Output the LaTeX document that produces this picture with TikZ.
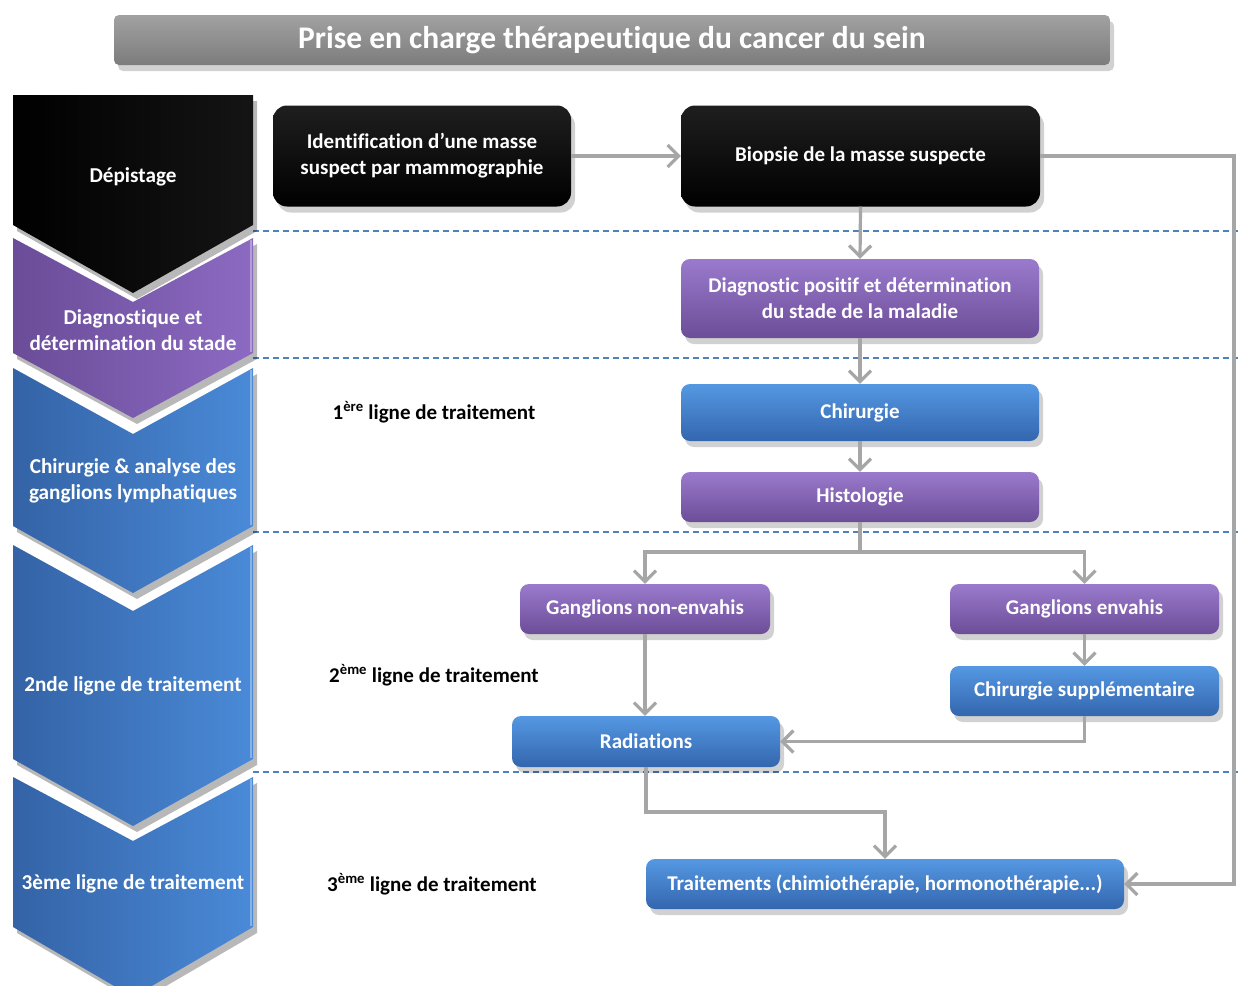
\documentclass[tikz,border=0pt]{standalone}
\usepackage{fontspec}
\setmainfont{Carlito}[Ligatures=NoCommon]
\usetikzlibrary{arrows.meta,shadows}
\definecolor{arrgray}{HTML}{A6A6A6}
\definecolor{dashblue}{HTML}{4F81BD}
\definecolor{purtop}{HTML}{9A7ACC}
\definecolor{purbot}{HTML}{6C4D98}
\definecolor{blutop}{HTML}{5598E2}
\definecolor{blubot}{HTML}{3366AE}
\definecolor{chpurL}{HTML}{6A4C98}
\definecolor{chpurR}{HTML}{8C6AC2}
\definecolor{chbluL}{HTML}{3463A6}
\definecolor{chbluR}{HTML}{4A8AD8}
\definecolor{titgray}{HTML}{8A8A8A}
\begin{document}
\begin{tikzpicture}[x=1pt,y=-1pt,
  shad/.style={drop shadow={shadow xshift=4pt,shadow yshift=-6pt,opacity=0.18,fill=black}},
  box/.style={shad,rounded corners=9pt,align=center,text=white,inner sep=0pt,
    font=\fontsize{21}{26}\selectfont\bfseries},
  blackbox/.style={box,top color=black!88,bottom color=black,rounded corners=14pt},
  purbox/.style={box,top color=purtop,bottom color=purbot},
  blubox/.style={box,top color=blutop,bottom color=blubot},
  chevtext/.style={text=white,align=center,font=\fontsize{21.2}{26}\selectfont\bfseries},
  lbl/.style={text=black,font=\fontsize{21}{25}\selectfont\bfseries},
  conn/.style={draw=arrgray,line width=3.2pt},
  arr/.style={conn,-{Straight Barb[length=11pt,width=22pt]}},
  sep/.style={draw=dashblue,line width=1.2pt,dash pattern=on 6pt off 4pt},
  chshadow/.style={fill=black,opacity=0.28}
]
\useasboundingbox (0,0) rectangle (1238,985);
\fill[white] (0,0) rectangle (1238,985);

% dashed separators
\coordinate (d1a) at (253,231); \coordinate (d1b) at (1238,231);
\coordinate (d2a) at (253,358); \coordinate (d2b) at (1238,358);
\coordinate (d3a) at (253,532); \coordinate (d3b) at (1238,532);
\coordinate (d4a) at (253,772); \coordinate (d4b) at (1238,772);
\draw[sep] (d1a) -- (d1b);
\draw[sep] (d2a) -- (d2b);
\draw[sep] (d3a) -- (d3b);
\draw[sep] (d4a) -- (d4b);

% title
\node[shad,rounded corners=5pt,top color=titgray!80,bottom color=titgray!90!black,
  minimum width=996pt,minimum height=50pt,inner sep=0pt,text=white,
  font=\fontsize{31.5}{36}\selectfont\bfseries] (title) at (612,40)
  {Prise en charge thérapeutique du cancer du sein};

% chevrons: shadows
\fill[chshadow] (17,101) -- (257,101) -- (257,231) -- (137,299) -- (17,231) -- cycle;
\fill[chshadow] (17,244) -- (137,308) -- (257,244) -- (257,359) -- (137,424) -- (17,359) -- cycle;
\fill[chshadow] (17,374) -- (137,440) -- (257,374) -- (257,532) -- (137,599) -- (17,532) -- cycle;
\fill[chshadow] (17,551) -- (137,617) -- (257,551) -- (257,765) -- (137,832) -- (17,765) -- cycle;
\fill[chshadow] (17,783) -- (137,847) -- (257,783) -- (257,933) -- (137,1003) -- (17,933) -- cycle;
% chevrons
\shade[left color=black,right color=black!92] (13,95) -- (253,95) -- (253,225) -- (133,293) -- (13,225) -- cycle;
\shade[left color=chpurL,right color=chpurR] (13,238) -- (133,302) -- (253,238) -- (253,353) -- (133,418) -- (13,353) -- cycle;
\shade[left color=chbluL,right color=chbluR] (13,368) -- (133,434) -- (253,368) -- (253,526) -- (133,593) -- (13,526) -- cycle;
\shade[left color=chbluL,right color=chbluR] (13,545) -- (133,611) -- (253,545) -- (253,759) -- (133,826) -- (13,759) -- cycle;
\shade[left color=chbluL,right color=chbluR] (13,777) -- (133,841) -- (253,777) -- (253,927) -- (133,997) -- (13,927) -- cycle;
% bevel highlights on right edges
\draw[white,opacity=0.35,line width=1.5pt] (251,240) -- (251,352);
\draw[white,opacity=0.35,line width=1.5pt] (251,370) -- (251,525);
\draw[white,opacity=0.35,line width=1.5pt] (251,547) -- (251,758);
\draw[white,opacity=0.35,line width=1.5pt] (251,779) -- (251,926);

\node[chevtext] (c1) at (133,177) {Dépistage};
\node[chevtext] (c2) at (133,330) {Diagnostique et\\détermination du stade};
\node[chevtext] (c3) at (133,481) {Chirurgie \& analyse des\\ganglions lymphatiques};
\node[chevtext] (c4) at (133,686) {2nde ligne de traitement};
\node[chevtext] (c5) at (133,884) {3ème ligne de traitement};

% side labels
\node[lbl] (l1) at (434,412) {1\textsuperscript{ère} ligne de traitement};
\node[lbl] (l2) at (434,675) {2\textsuperscript{ème} ligne de traitement};
\node[lbl] (l3) at (432,884) {3\textsuperscript{ème} ligne de traitement};

% boxes
\node[blackbox,minimum width=298pt,minimum height=101pt] (ident) at (422,156)
  {Identification d’une masse\\suspect par mammographie};
\node[blackbox,minimum width=359pt,minimum height=101pt] (biop) at (860.5,156)
  {Biopsie de la masse suspecte};
\node[purbox,minimum width=358pt,minimum height=79pt] (diag) at (860,298.5)
  {Diagnostic positif et détermination\\du stade de la maladie};
\node[blubox,minimum width=358pt,minimum height=57pt] (chir) at (860,412.5) {Chirurgie};
\node[purbox,minimum width=358pt,minimum height=50pt] (hist) at (860,497) {Histologie};
\node[purbox,minimum width=250pt,minimum height=50pt] (gne) at (645,609) {Ganglions non-envahis};
\node[purbox,minimum width=269pt,minimum height=50pt] (ge) at (1084.5,609) {Ganglions envahis};
\node[blubox,minimum width=269pt,minimum height=50pt] (csup) at (1084.5,691) {Chirurgie supplémentaire};
\node[blubox,minimum width=268pt,minimum height=51pt] (rad) at (646,741.5) {Radiations};
\node[blubox,minimum width=478pt,minimum height=50pt] (trait) at (885,884)
  {Traitements (chimiothérapie, hormonothérapie...)};

% connectors
\coordinate (sp) at (860,552);
\coordinate (rt) at (646,812);
\coordinate (br) at (1234,156);
\draw[arr] (ident.east) -- (biop.west);
\draw[arr] (biop.south) -- (diag.north);
\draw[arr] (diag.south) -- (chir.north);
\draw[arr] (chir.south) -- (hist.north);
\draw[conn] (hist.south) -- (sp);
\draw[arr] (sp) -| (gne.north);
\draw[arr] (sp) -| (ge.north);
\draw[arr] (ge.south) -- (csup.north);
\draw[arr] (gne.south) -- (gne.south |- rad.north);
\draw[arr] (csup.south) |- (rad.east);
\draw[arr] (rad.south) -- (rt) -| (trait.north);
\draw[arr] (biop.east) -- (br) |- (trait.east);
\end{tikzpicture}
\end{document}
